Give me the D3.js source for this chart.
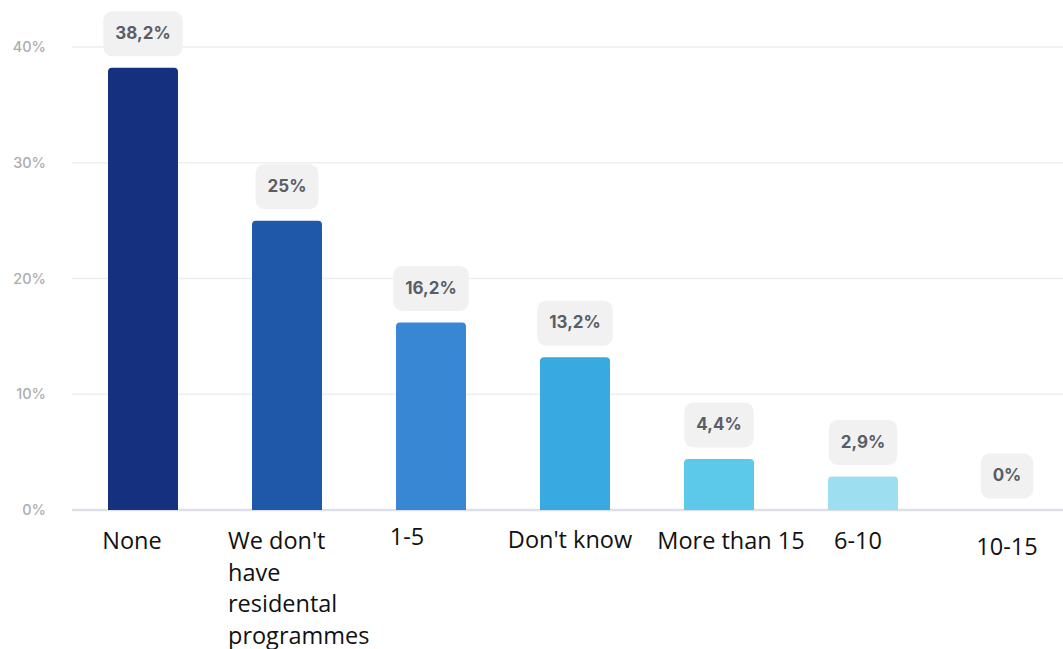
<!DOCTYPE html>
<html>
<head>
<meta charset="utf-8">
<script src="https://cdn.jsdelivr.net/npm/d3@7"></script>
<style>
  html, body { margin: 0; padding: 0; background: #ffffff; }
  svg { display: block; }
</style>
</head>
<body>
<svg id="chart" width="1063" height="649"></svg>
<script>
// Survey answers: number of residential programmes
const categories = ["None", "We don't have residental programmes", "1-5", "Don't know", "More than 15", "6-10", "10-15"];
const values = [38.2, 25, 16.2, 13.2, 4.4, 2.9, 0];
const valueLabels = ["38,2%", "25%", "16,2%", "13,2%", "4,4%", "2,9%", "0%"];
const barColors = ["#15307f", "#1f58a9", "#3887d4", "#38a9e1", "#5cc9ea", "#9ddff1", "#c8eef8"];
const yTicks = [0, 10, 20, 30, 40];

// Category label wrapping and small placement nudges (layout only)
const labelLines = [["None"], ["We don't", "have", "residental", "programmes"], ["1-5"], ["Don't know"], ["More than 15"], ["6-10"], ["10-15"]];
const labelNudge = [{dx: -11, dy: 0}, {dx: 0, dy: 0}, {dx: -24, dy: -4}, {dx: -5, dy: -1}, {dx: 12, dy: 0}, {dx: -5, dy: 0}, {dx: 0, dy: 6}];

const svg = d3.select("#chart");
const W = 1063;

const x = d3.scaleBand().domain(categories).range([71, 1079]).paddingInner(0.514).paddingOuter(0.257);
const y = d3.scaleLinear().domain([0, 40]).range([510, 47]);

// Gridlines
svg.append("g").selectAll("line").data(yTicks).join("line")
  .attr("x1", 72).attr("x2", W)
  .attr("y1", d => y(d)).attr("y2", d => y(d))
  .attr("stroke", d => d === 0 ? "#dde0e6" : "#eeeeee")
  .attr("stroke-width", d => d === 0 ? 2.5 : 1.5);

// Y tick labels
const yAxis = d3.axisLeft(y).tickValues(yTicks).tickFormat(d => d + "%").tickSize(0).tickPadding(0);
const gy = svg.append("g").attr("transform", "translate(46,0)").call(yAxis);
gy.select(".domain").remove();
gy.selectAll("text")
  .attr("font-family", "Inter, 'Open Sans', sans-serif")
  .attr("font-size", 14.5)
  .attr("font-weight", 500)
  .attr("fill", "#adadad");

// Bars with rounded tops
const r = 4;
function barPath(d, i) {
  const x0 = x(categories[i]), w = x.bandwidth();
  const y0 = y(d), y1 = y(0);
  const h = y1 - y0;
  if (h <= 0) return "";
  const rr = Math.min(r, h);
  return `M${x0},${y1} L${x0},${y0 + rr} Q${x0},${y0} ${x0 + rr},${y0} L${x0 + w - rr},${y0} Q${x0 + w},${y0} ${x0 + w},${y0 + rr} L${x0 + w},${y1} Z`;
}
svg.append("g").selectAll("path").data(values).join("path")
  .attr("d", (d, i) => barPath(d, i))
  .attr("fill", (d, i) => barColors[i]);

// Value badges
const badges = svg.append("g").selectAll("g").data(values).join("g")
  .attr("transform", (d, i) => `translate(${x(categories[i]) + x.bandwidth() / 2},${y(d) - 35})`);
badges.append("text")
  .attr("text-anchor", "middle")
  .attr("dy", "0.36em")
  .attr("font-family", "Inter, 'Open Sans', sans-serif")
  .attr("font-size", 17)
  .attr("font-weight", 700)
  .attr("fill", "#5a5d66")
  .text((d, i) => valueLabels[i]);
badges.each(function() {
  const g = d3.select(this);
  const bb = g.select("text").node().getBBox();
  const bw = bb.width + 24, bh = 45;
  g.insert("rect", "text")
    .attr("x", -bw / 2).attr("y", -bh / 2 + 1)
    .attr("width", bw).attr("height", bh)
    .attr("rx", 9)
    .attr("fill", "#f1f1f2");
});

// Category labels
const lab = svg.append("g").selectAll("text").data(categories).join("text")
  .attr("font-family", "'Open Sans', sans-serif")
  .attr("font-size", 23.5)
  .attr("fill", "#111111")
  .attr("transform", (d, i) => {
    const cx = x(d) + x.bandwidth() / 2 + labelNudge[i].dx;
    return `translate(${cx},${549 + labelNudge[i].dy})`;
  });
lab.each(function(d, i) {
  const t = d3.select(this);
  const lines = labelLines[i];
  if (lines.length === 1) {
    t.attr("text-anchor", "middle").text(lines[0]);
  } else {
    // multi-line label: left-aligned block starting near the bar's left edge
    t.attr("text-anchor", "start");
    lines.forEach((ln, k) => {
      t.append("tspan").attr("x", -59).attr("dy", k === 0 ? 0 : 31.5).text(ln);
    });
  }
});
</script>
</body>
</html>
